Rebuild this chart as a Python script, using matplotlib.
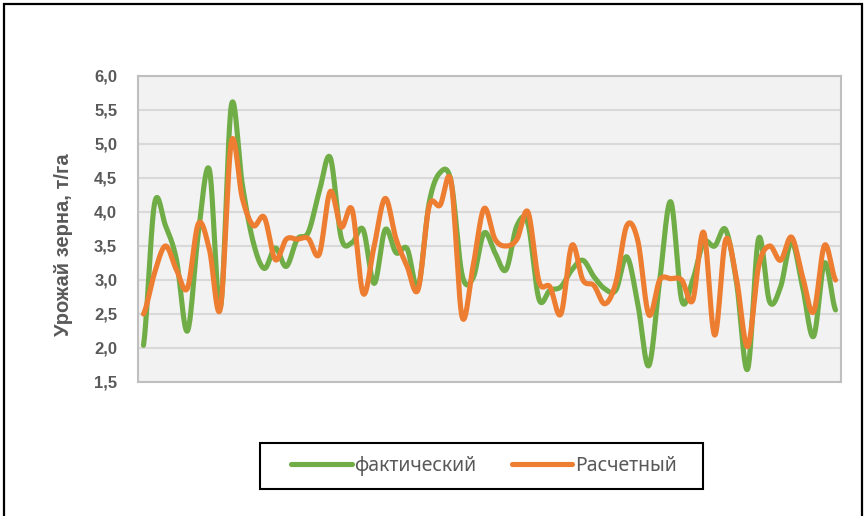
import matplotlib
matplotlib.use("Agg")
import matplotlib.pyplot as plt
from matplotlib.patches import Rectangle
import numpy as np

plt.rcParams['font.family'] = ['Noto Sans', 'DejaVu Sans']

# урожай по годам (точки слева направо)
fact = [2.04, 4.12, 3.8, 3.3, 2.25, 3.7, 4.62, 2.6, 5.57, 4.4,
        3.55, 3.17, 3.47, 3.2, 3.6, 3.7, 4.3, 4.8, 3.62, 3.55,
        3.74, 2.95, 3.74, 3.4, 3.46, 2.9, 4.13, 4.58, 4.45, 3.08,
        3.03, 3.69, 3.4, 3.15, 3.8, 3.83, 2.72, 2.85, 2.9, 3.15,
        3.29, 3.05, 2.87, 2.85, 3.34, 2.65, 1.74, 3.0, 4.15, 2.7,
        3.0, 3.55, 3.5, 3.74, 2.95, 1.69, 3.61, 2.68, 2.9, 3.56,
        2.9, 2.17, 3.25, 2.56]
calc = [2.5, 3.1, 3.5, 3.15, 2.88, 3.83, 3.45, 2.58, 5.03, 4.2,
        3.8, 3.92, 3.3, 3.6, 3.6, 3.61, 3.38, 4.3, 3.78, 4.03,
        2.8, 3.5, 4.2, 3.6, 3.2, 2.86, 4.08, 4.1, 4.45, 2.46,
        3.2, 4.05, 3.6, 3.5, 3.6, 4.0, 2.98, 2.9, 2.5, 3.51,
        3.0, 2.92, 2.65, 2.96, 3.8, 3.58, 2.49, 3.0, 3.02, 3.0,
        2.7, 3.7, 2.19, 3.59, 3.0, 2.02, 3.2, 3.5, 3.29, 3.63,
        3.05, 2.53, 3.51, 3.0]
yticks = [1.5, 2.0, 2.5, 3.0, 3.5, 4.0, 4.5, 5.0, 5.5, 6.0]
names = ['фактический', 'Расчетный']
ylabel = 'Урожай зерна, т/га'


def smooth(y, n=24):
    # сглаженная линия как в Excel (Catmull-Rom через каждую точку)
    y = np.asarray(y, float)
    p = np.concatenate([[y[0]], y, [y[-1]]])
    t = np.linspace(0, 1, n, endpoint=False)
    xs, ys = [], []
    for i in range(len(y) - 1):
        p0, p1, p2, p3 = p[i], p[i + 1], p[i + 2], p[i + 3]
        v = 0.5 * (2 * p1 + (-p0 + p2) * t
                   + (2 * p0 - 5 * p1 + 4 * p2 - p3) * t ** 2
                   + (-p0 + 3 * p1 - 3 * p2 + p3) * t ** 3)
        xs.append(i + t)
        ys.append(v)
    xs.append([len(y) - 1])
    ys.append([y[-1]])
    return np.concatenate(xs), np.concatenate(ys)


bold = ['Liberation Sans', 'DejaVu Sans']

fig = plt.figure(figsize=(8.67, 5.16), dpi=100)
ax = fig.add_axes([138 / 867, 1 - 382 / 516, 703 / 867, 306 / 516])
ax.set_facecolor('#f2f2f2')

x1, y1 = smooth(fact)
x2, y2 = smooth(calc)
ax.plot(x1, y1, color='#70ad47', lw=3.7, solid_capstyle='round',
        solid_joinstyle='round', label=names[0], zorder=3)
ax.plot(x2, y2, color='#ed7d31', lw=3.7, solid_capstyle='round',
        solid_joinstyle='round', label=names[1], zorder=4)

ax.set_xlim(-0.5, len(fact) - 0.5)
ax.set_ylim(1.5, 6.0)
ax.set_xticks([])
ax.set_yticks(yticks)
ax.set_yticklabels([f'{v:.1f}'.replace('.', ',') for v in yticks],
                   fontsize=12, fontweight='bold', color='#595959',
                   family=bold)
ax.tick_params(axis='y', length=0, pad=15)
ax.grid(axis='y', color='#d9d9d9', lw=1.5)
ax.set_axisbelow(True)
for s in ax.spines.values():
    s.set_color('#bfbfbf')
    s.set_linewidth(1.5)

ax.set_ylabel(ylabel, fontsize=14.5, fontweight='bold', color='#595959',
              family=bold)
ax.yaxis.set_label_coords(-0.093, 0.45)

# легенда без рамки + отдельная рамка по размеру как в Excel
leg = fig.legend(loc='center', bbox_to_anchor=(484 / 867, 1 - 466 / 516),
                 ncol=2, frameon=False, fontsize=14,
                 handlelength=3.1, handletextpad=0.15, columnspacing=1.8,
                 borderpad=0.7, borderaxespad=0)
for t in leg.get_texts():
    t.set_color('#595959')
fig.patches.append(Rectangle((260 / 867, 1 - 489 / 516), 443 / 867, 46 / 516,
                             transform=fig.transFigure, fill=False,
                             edgecolor='black', lw=1.5))

fig.patches.append(Rectangle((4 / 867, -0.05), 858 / 867, 1.05 - 4 / 516,
                             transform=fig.transFigure, fill=False,
                             edgecolor='black', lw=1.6))

fig.savefig('out.png', dpi=100)
